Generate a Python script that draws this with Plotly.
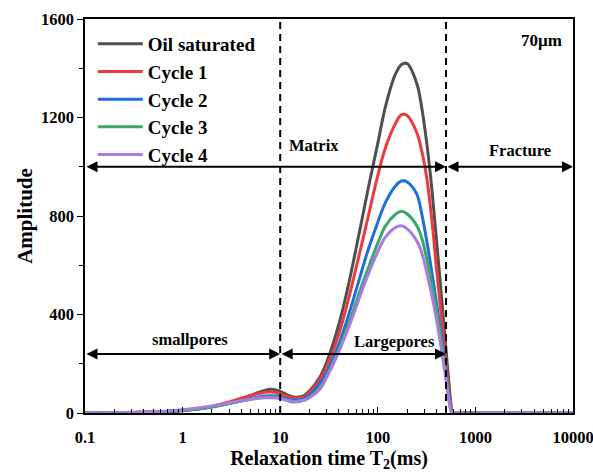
import numpy as np
import plotly.graph_objects as go

t2 = [0.1, 0.2, 0.3, 0.5, 0.7, 1, 1.5, 2, 3, 4, 5, 6, 7, 8, 9, 10, 12, 14, 17, 20,
      25, 30, 40, 50, 60, 70, 80, 100, 120, 150, 175, 200, 250, 280, 320, 360, 400,
      450, 500, 540, 560, 580, 600, 700, 1000, 2000, 5000, 10000]

oil = [0, 1, 2, 4, 6, 10, 17, 25, 42, 58, 72, 84, 92, 96, 94, 88, 73, 64, 68, 90,
       140, 207, 362, 520, 670, 800, 915, 1095, 1245, 1372, 1415, 1419, 1340, 1248, 1085, 900, 700,
       468, 256, 105, 40, 3, 0, 0, 0, 0, 0, 0]
cycle1 = [0, 1, 2, 4, 7, 11, 19, 28, 45, 60, 71, 79, 84, 85, 83, 78, 67, 60, 63, 85,
          130, 190, 322, 462, 590, 702, 800, 965, 1078, 1172, 1212, 1208, 1140, 1070, 945, 775, 585,
          385, 200, 75, 25, 1, 0, 0, 0, 0, 0, 0]
cycle2 = [0, 1, 2, 4, 6, 10, 17, 24, 38, 50, 59, 65, 69, 70, 69, 66, 56, 52, 56, 72,
          115, 165, 280, 395, 500, 590, 665, 775, 855, 920, 942, 938, 890, 815, 690, 565, 445,
          305, 165, 55, 15, 1, 0, 0, 0, 0, 0, 0]
cycle3 = [0, 1, 2, 4, 7, 11, 18, 25, 38, 49, 56, 61, 64, 65, 64, 62, 50, 45, 50, 64,
          98, 150, 260, 360, 450, 528, 590, 690, 760, 805, 819, 808, 762, 715, 620, 520, 415,
          285, 152, 50, 12, 1, 0, 0, 0, 0, 0, 0]
cycle4 = [0, 1, 3, 5, 8, 13, 21, 29, 41, 50, 56, 60, 62, 62, 61, 59, 51, 47, 51, 62,
          92, 145, 250, 345, 430, 505, 565, 655, 715, 752, 760, 748, 700, 655, 565, 472, 378,
          255, 133, 42, 10, 1, 0, 0, 0, 0, 0, 0]

names = ["Oil saturated", "Cycle 1", "Cycle 2", "Cycle 3", "Cycle 4"]
series = [oil, cycle1, cycle2, cycle3, cycle4]
colors = ["#4f4f4f", "#ec3b3d", "#1f6fd8", "#3aa86a", "#a97ddf"]

x_ticks = [0.1, 1, 10, 100, 1000, 10000]
x_tick_text = ["0.1", "1", "10", "100", "1000", "10000"]
boundaries = [10, 500]

SERIF = "Liberation Serif"

fig = go.Figure()
for nm, ys, c in zip(names, series, colors):
    fig.add_trace(go.Scatter(x=t2, y=ys, name=nm, mode="lines",
                             line=dict(color=c, width=3, shape="spline", smoothing=1.0),
                             cliponaxis=False))

for b in boundaries:
    fig.add_trace(go.Scatter(x=[b, b], y=[0, 1600], mode="lines", showlegend=False,
                             line=dict(color="black", width=2, dash="7px,5px"),
                             hoverinfo="skip"))

def arrow(x0, x1, y):
    return dict(x=np.log10(x1), y=y, ax=np.log10(x0), ay=y, xref="x", yref="y",
                axref="x", ayref="y", text="", showarrow=True, arrowhead=2,
                arrowside="end+start", arrowsize=1.1, arrowwidth=2, arrowcolor="black",
                standoff=0, startstandoff=0)

anns = [
    arrow(0.1, 500, 1000),
    arrow(500, 10000, 1000),
    arrow(0.1, 10, 240),
    arrow(10, 500, 240),
]
fnt = dict(family=SERIF, size=16.5, color="black", weight="bold")
def label(txt, x, y, anchor="center", size=16.5):
    f = dict(fnt); f["size"] = size
    return dict(x=np.log10(x), y=y, xref="x", yref="y", text=txt, showarrow=False,
                xanchor=anchor, yanchor="middle", font=f)

anns += [
    label("Matrix", 11.7, 1088, "left"),
    label("Fracture", 2850, 1066),
    label("smallpores", 1.2, 298),
    label("Largepores", 150, 290),
    label("70µm", 4800, 1513, size=17),
]

fig.update_layout(
    width=593, height=472,
    margin=dict(l=85, r=20, t=19, b=59),
    paper_bgcolor="white", plot_bgcolor="white",
    annotations=anns,
    showlegend=True,
    legend=dict(x=0.016, y=0.985, xanchor="left", yanchor="top",
                font=dict(family=SERIF, size=19, color="black", weight="bold"),
                bgcolor="rgba(0,0,0,0)", itemwidth=45, tracegroupgap=0),
    xaxis=dict(type="log", range=[-1, 4], tickvals=x_ticks, ticktext=x_tick_text,
               automargin=False, ticklabeloverflow="allow",
               ticks="inside", ticklen=6, tickwidth=1.2, tickcolor="black",
               minor=dict(ticks="inside", ticklen=4, tickwidth=1, tickcolor="black", dtick="D1"),
               showline=True, linecolor="black", linewidth=1.5, mirror=True,
               showgrid=False, zeroline=False, ticklabelstandoff=8,
               tickfont=dict(family=SERIF, size=16.5, color="black", weight="bold"),
               title=dict(text="Relaxation time T<sub>2</sub>(ms)", standoff=8,
                          font=dict(family=SERIF, size=20, color="black", weight="bold"))),
    yaxis=dict(range=[0, 1600], dtick=400, tick0=0, automargin=False,
               ticks="outside", ticklen=6, tickwidth=1.2, tickcolor="black",
               minor=dict(ticks="outside", ticklen=4, tickwidth=1, tickcolor="black", dtick=200),
               showline=True, linecolor="black", linewidth=1.5, mirror=True,
               showgrid=False, zeroline=False,
               tickfont=dict(family=SERIF, size=16.5, color="black", weight="bold"),
               title=dict(text="Amplitude", standoff=3,
                          font=dict(family=SERIF, size=21, color="black", weight="bold"))),
)

fig.write_html("out.html")
